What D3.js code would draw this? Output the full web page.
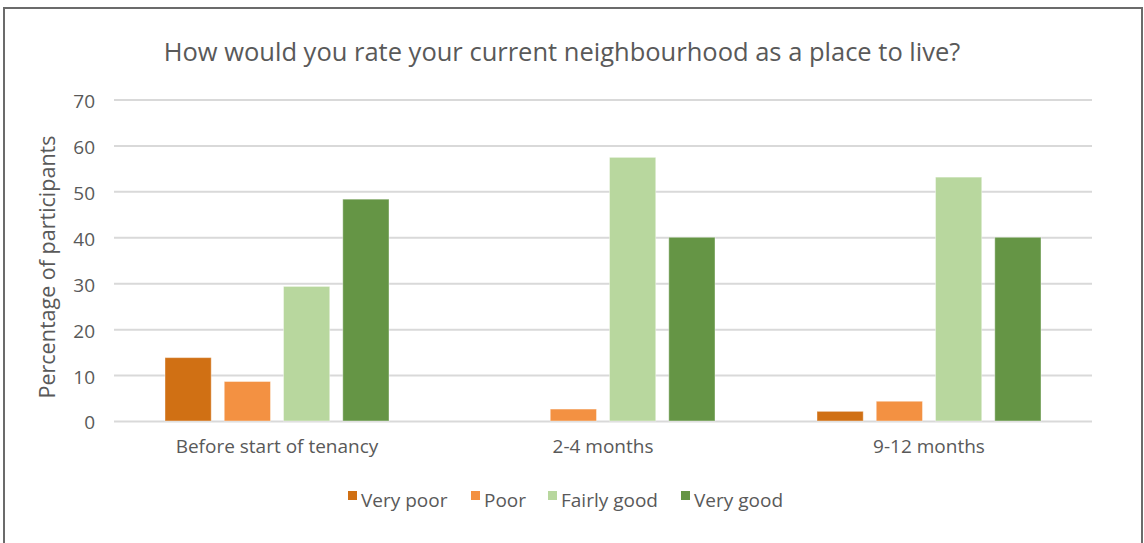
<!DOCTYPE html>
<html>
<head>
<meta charset="utf-8">
<script src="https://cdn.jsdelivr.net/npm/d3@7"></script>
<style>
  body { margin: 0; background: #fff; }
  svg text { font-family: "Open Sans", "Noto Sans", sans-serif; fill: #595959; }
</style>
</head>
<body>
<div id="chart"></div>
<script>
// data
var categories = ["Before start of tenancy", "2-4 months", "9-12 months"];
var seriesNames = ["Very poor", "Poor", "Fairly good", "Very good"];
var veryPoor   = [13.8, 0, 2.1];
var poor       = [8.6, 2.6, 4.3];
var fairlyGood = [29.3, 57.4, 53.1];
var veryGood   = [48.3, 40.0, 40.0];
var yTicks = [0, 10, 20, 30, 40, 50, 60, 70];
var colors = ["#d07014", "#f39142", "#b8d79e", "#659545"];

drawChart();

function drawChart() {
  var svg = d3.select("#chart")
              .append("svg")
              .attr("width", 1144)
              .attr("height", 543);

  // outer frame
  svg.append("rect")
     .attr("x", 4).attr("y", 8)
     .attr("width", 1138).attr("height", 545)
     .attr("fill", "none")
     .attr("stroke", "#6b6b6b")
     .attr("stroke-width", 2);

  var margin = {top: 99.5, left: 114, right: 52, bottom: 122},
      width = 1144 - margin.left - margin.right,
      height = 543 - margin.top - margin.bottom;

  var g = svg.append("g")
      .attr("transform", "translate(" + margin.left + "," + margin.top + ")");

  var x0 = d3.scaleBand().domain(categories).range([0, width]).paddingInner(0).paddingOuter(0);
  var x1 = d3.scaleBand().domain(seriesNames).range([51, x0.bandwidth() - 51]).paddingInner(0.22).paddingOuter(0);
  var y = d3.scaleLinear().domain([0, 70]).range([height, 0]);
  var color = d3.scaleOrdinal().domain(seriesNames).range(colors);

  var series = [veryPoor, poor, fairlyGood, veryGood];
  var rows = [];
  categories.forEach(function(c, i) {
    seriesNames.forEach(function(s, j) {
      rows.push({cat: c, name: s, value: series[j][i]});
    });
  });

  // gridlines
  g.append("g")
    .attr("class", "grid")
    .call(d3.axisLeft(y).tickValues(yTicks).tickSize(-width).tickFormat(""))
    .call(function(a) {
      a.select(".domain").remove();
      a.selectAll("line").attr("stroke", "#d9d9d9").attr("stroke-width", 2);
    });

  // y tick labels
  g.append("g")
    .call(d3.axisLeft(y).tickValues(yTicks).tickSize(0).tickPadding(19))
    .call(function(a) {
      a.select(".domain").remove();
      a.selectAll("text").attr("font-size", "19px").attr("dy", "0.42em")
        .style("font-family", "'Open Sans'").attr("fill", "#595959");
    });

  // bars
  g.selectAll(".bar")
    .data(rows.filter(function(d) { return d.value > 0; }))
    .enter()
    .append("rect")
    .attr("class", "bar")
    .attr("x", function(d) { return x0(d.cat) + x1(d.name); })
    .attr("y", function(d) { return y(d.value); })
    .attr("width", x1.bandwidth())
    .attr("height", function(d) { return height - y(d.value); })
    .attr("fill", function(d) { return color(d.name); })
    .attr("stroke", "#ffffff")
    .attr("stroke-opacity", 0.4)
    .attr("stroke-width", 1);

  // x labels
  g.append("g")
    .attr("transform", "translate(0," + height + ")")
    .call(d3.axisBottom(x0).tickSize(0).tickPadding(14))
    .call(function(a) {
      a.select(".domain").remove();
      a.selectAll("text").attr("font-size", "19px").attr("dy", "0.95em")
        .style("font-family", "'Open Sans'").attr("fill", "#595959");
    });

  // y axis title
  svg.append("text")
    .attr("transform", "translate(55,267) rotate(-90)")
    .attr("text-anchor", "middle")
    .attr("font-size", "21.5px")
    .text("Percentage of participants");

  // title
  svg.append("text")
    .attr("x", 562).attr("y", 61)
    .attr("text-anchor", "middle")
    .attr("font-size", "25.5px")
    .text("How would you rate your current neighbourhood as a place to live?");

  // legend
  var legendX = [348, 471, 548, 681];
  var legend = svg.selectAll(".legend")
    .data(seriesNames)
    .enter()
    .append("g")
    .attr("class", "legend")
    .attr("transform", function(d, i) { return "translate(" + legendX[i] + ",491)"; });
  legend.append("rect")
    .attr("width", 9).attr("height", 9)
    .attr("fill", function(d) { return color(d); });
  legend.append("text")
    .attr("x", 13).attr("y", 16)
    .attr("font-size", "19px")
    .text(function(d) { return d; });
}
</script>
</body>
</html>
